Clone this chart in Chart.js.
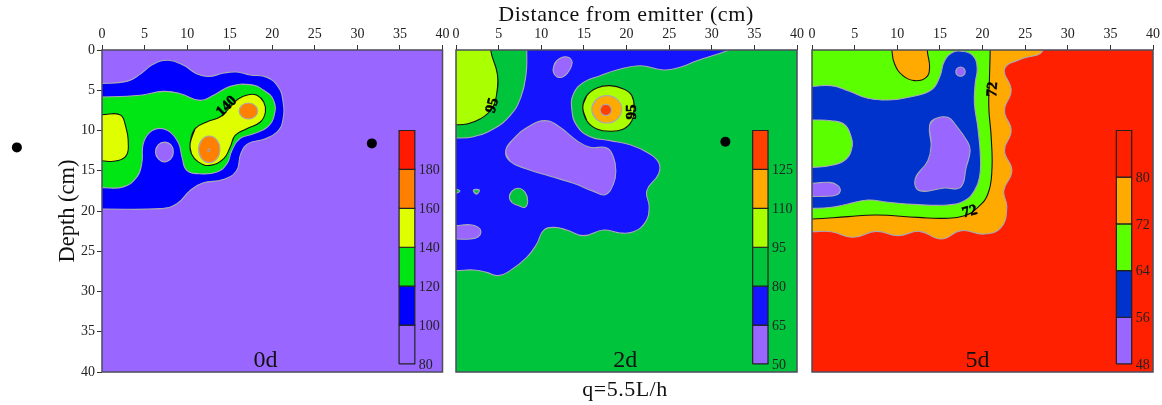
<!DOCTYPE html>
<html>
<head>
<meta charset="utf-8">
<title>Contours</title>
<script src="https://cdn.jsdelivr.net/npm/chart.js@4"></script>
<style>
  html, body { margin: 0; padding: 0; background: #fff; }
  body { position: relative; width: 1162px; height: 405px; overflow: hidden; }
  canvas { position: absolute; top: 0; }
  .cap { position: absolute; font-family: "Liberation Serif", serif; color: #111; white-space: nowrap; transform: translateX(-50%); }
</style>
</head>
<body>
<canvas id="c0" width="456" height="405" style="left:0"></canvas>
<canvas id="c2" width="361" height="405" style="left:445px"></canvas>
<canvas id="c5" width="360" height="405" style="left:802px"></canvas>
<div class="cap" style="left:626px;top:1px;font-size:22px;letter-spacing:.6px">Distance from emitter (cm)</div>
<div class="cap" style="left:625px;top:376px;font-size:22px;letter-spacing:.5px">q=5.5L/h</div>
<script>
const axisTicks = [0, 5, 10, 15, 20, 25, 30, 35, 40];

// 0d contours, x = distance, y = depth (cm)
const d0Blue = [[-3,4.14],[0,4.14],[2.9,3.9],[4.5,3],[6,1.78],[7.8,1.28],[9.6,1.9],[11.1,2.94],[12.5,3.3],[14.3,2.86],[15.8,2.73],[17.4,3.1],[19.4,3.4],[20.7,4.6],[21.25,6.25],[21.25,8.7],[20.55,10.2],[19,11.1],[17.2,11.6],[16.3,12.9],[15.8,15],[14.2,16.1],[11.9,16.5],[10.4,17.4],[8.8,19.1],[6.8,19.7],[0,19.75],[-3,19.75]];
const d0Green = [[-3,5.84],[0,5.84],[4.5,5.63],[7.2,5.14],[9.2,5.43],[11.5,6.26],[13.1,5.63],[15.06,4.52],[17.4,4.3],[19,5],[20.16,6.26],[20.23,8.12],[19.4,9.6],[17.8,10.4],[16.2,11],[15.25,12.5],[14.7,14.1],[13.5,15.15],[11.5,15.37],[9.96,14.95],[9.4,13.3],[9,11.6],[8,10.2],[6.8,9.73],[5.65,10.2],[4.85,11.6],[4.67,14.1],[4.08,15.8],[2.5,17],[0,17.1],[-3,17.1]];
const d0Hole = [[6.28,12.67],[6.6,11.8],[7.33,11.45],[8.1,11.8],[8.38,12.67],[8.1,13.5],[7.33,13.9],[6.6,13.5]];
const d0YellowLeft = [[-3,8.03],[0,8.03],[2.1,8.03],[2.7,9.15],[3.1,12.05],[2.7,13.3],[1.3,13.83],[0,13.75],[-3,13.75]];
const d0Yellow = [[10.35,11.64],[10.94,9.77],[12.3,8.94],[13.9,8.3],[15.06,7.08],[16.04,6.05],[17.2,5.55],[18.2,5.63],[19,6.46],[19.2,7.7],[18.6,8.94],[17,9.77],[15.65,10.6],[15.06,12.05],[14.3,13.5],[12.7,14.33],[11.3,13.9],[10.5,12.9]];
const d0OrangeTop = [[16.1,7.58],[16.4,6.9],[17.2,6.58],[18,6.9],[18.3,7.58],[18,8.25],[17.2,8.58],[16.4,8.25]];
const d0OrangeLow = [[11.35,12.34],[11.7,11.2],[12.6,10.68],[13.5,11.2],[13.85,12.34],[13.5,13.5],[12.6,14],[11.7,13.5]];
const d0Red = [[12.42,12.46],[12.55,12.32],[12.68,12.46],[12.55,12.6]];

// 2d contours
const d2Blue = [[8.3,-3],[8.3,0],[8.22,2.98],[7.6,5.88],[6.34,8.16],[4.38,9.81],[2.04,10.77],[0,10.93],[-3,10.93],[-3,27.41],[0,27.41],[2.04,27.33],[3.6,27.62],[4.97,28.03],[6.34,27.41],[8.3,25.76],[9.47,24.1],[10.25,22.44],[11.43,22.03],[13,22.36],[14.95,23.06],[17.3,22.36],[19.26,22.73],[20.82,22.57],[22.2,21.41],[22.66,19.54],[22.39,17.47],[23.76,15.4],[23.76,13.95],[22.39,12.71],[20.43,11.76],[18.08,11.26],[15.73,10.77],[14.17,9.4],[13.58,7.33],[13.78,5.47],[14.95,4.02],[16.91,3.19],[18.86,2.48],[21.6,1.95],[24.34,2.48],[26.3,2.15],[28.26,1.33],[31.8,0.08],[34,-1],[34,-3]];
const d2YellowLeft = [[4.07,-3],[4.07,0],[4.85,2.98],[4.77,5.47],[4.19,7.33],[2.82,8.57],[1.25,9.19],[0,9.28],[-3,9.28],[-3,-3]];
const d2BlobTop = [[11.43,2.15],[11.82,1.33],[12.8,0.83],[13.58,1.33],[13.38,2.36],[12.6,3.31],[11.82,3.31],[11.43,2.77]];
const d2BlobMid = [[5.83,12.5],[6.73,11.06],[8.69,9.4],[10.65,8.78],[12.2,9.6],[14.17,11.26],[15.73,12.09],[17.69,12.17],[18.47,13.33],[18.75,14.99],[18.47,16.65],[17.5,17.97],[16.13,17.56],[13.78,16.56],[11.04,15.69],[8.3,14.78],[6.34,13.83]];
const d2BlobLow = [[-3,21.82],[0,21.82],[1.65,21.7],[2.62,22.03],[2.93,22.57],[2.62,23.19],[1.65,23.48],[0,23.48],[-3,23.48]];
const d2GreenBlob = [[6.26,18.3],[6.54,17.56],[7.32,17.18],[8.1,17.68],[8.41,18.72],[8.1,19.54],[7.32,19.33],[6.54,18.92]];
const d2SpeckA = [[-0.5,17.3],[0,17.3],[0.45,17.5],[0,17.8],[-0.5,17.8]];
const d2SpeckB = [[2.04,17.4],[2.74,17.4],[2.39,17.9]];
const d2Yellow = [[14.87,7.12],[15.34,5.67],[16.52,4.72],[18.08,4.43],[19.65,4.84],[20.63,5.67],[20.9,7.33],[20.63,8.78],[19.65,9.81],[18.08,10.1],[16.52,9.81],[15.34,8.78]];
const d2Orange = [[15.93,7.37],[16.45,6.17],[17.69,5.67],[18.93,6.17],[19.45,7.37],[18.93,8.57],[17.69,9.07],[16.45,8.57]];
const d2Red = [[16.9,7.45],[17.1,6.95],[17.57,6.75],[18.04,6.95],[18.24,7.45],[18.04,7.95],[17.57,8.15],[17.1,7.95]];

// 5d contours
const d5Orange = [[27.07,-3],[27.07,0.08],[24.53,1.12],[22.58,2.36],[23.36,5],[22.58,7.54],[23.36,10],[22.58,12.5],[23.44,14.99],[22.5,17.47],[22.85,19.54],[22.19,22.03],[20.23,22.86],[17.5,22.44],[15.16,23.48],[12.62,22.53],[10.08,23.06],[7.54,22.53],[4.8,23.27],[2.27,22.57],[0,22.57],[-3,22.57],[-3,-3]];
const d5Green = [[20.9,-3],[20.9,0],[20.82,3.4],[20.74,7.12],[21.02,10.85],[21.1,15],[20.63,17.89],[19.45,19.54],[17.89,20.58],[15.55,20.91],[12.42,20.79],[7.54,20.5],[4.22,20.7],[0,21],[-3,21],[-3,-3]];
const d5OrangeTop = [[9.38,-3],[9.38,0],[9.69,1.74],[10.66,3.19],[12.03,3.81],[13.4,3.4],[13.79,2.15],[13.52,0],[13.52,-3]];
const d5Blue = [[-3,4.51],[0,4.51],[2.27,4.43],[4.22,5.05],[6.56,6],[8.91,6.21],[11.64,5.8],[13.98,4.97],[14.96,3.4],[15.55,1.33],[16.52,0.29],[17.7,0.17],[18.87,0.7],[19.37,2.15],[19.14,4.22],[19.06,6.7],[19.45,9.6],[19.76,13.33],[19.65,15.82],[19.06,17.47],[17.89,18.72],[15.94,19.25],[12.42,19.21],[8.91,18.92],[6.56,18.63],[4.22,19.13],[2.27,19.54],[0,19.67],[-3,19.67]];
const d5GreenLeft = [[-3,8.7],[0,8.7],[2.27,8.78],[3.83,9.28],[4.61,10.85],[4.69,12.09],[4.02,13.54],[2.46,14.29],[0,14.58],[-3,14.58]];
const d5BlobMid = [[13.79,9.4],[14.37,8.57],[15.94,8.36],[16.91,9.4],[18.28,11.47],[18.55,12.5],[18.09,14.58],[17.42,17.06],[15.55,17.14],[12.62,17.47],[12.11,16.02],[13.59,13.75],[13.98,11.68]];
const d5BlobTop = [[16.87,2.69],[17.03,2.28],[17.42,2.11],[17.81,2.28],[17.97,2.69],[17.81,3.1],[17.42,3.27],[17.03,3.1]];
const d5BlobLow = [[-3,16.56],[0,16.56],[2.07,16.44],[3.05,16.85],[3.32,17.47],[2.85,18.01],[1.48,18.18],[0,18.18],[-3,18.18]];

// emitter dots
const d0Dots = [[31.7,11.6]];
const d0DotsOutside = [[-10,12.1]];   // left of the plot, the line element won't draw these
const d2Dots = [[31.6,11.4]];

// colorbar levels, low to high
const d0Levels = [80, 100, 120, 140, 160, 180, 200];
const d2Levels = [50, 65, 80, 95, 110, 125, 140];
const d5Levels = [48, 56, 64, 72, 80, 88];

const PURPLE = '#9966ff';
const d0Colors = [PURPLE, '#0000ff', '#00e614', '#dfff00', '#ff8000', '#ff1a00'];
const d2Colors = [PURPLE, '#1414ff', '#00c43c', '#aaff00', '#ffaa00', '#ff4000'];
const d5Colors = [PURPLE, '#0033cc', '#5cff00', '#ffaa00', '#ff2000'];

const GREY = '#a9a9b5';
const BLACK = '#111111';
const SERIF = '"Liberation Serif", serif';
const BAR_TOP = 10, BAR_BOTTOM = 39;   // depth the colorbar spans

const notesPlugin = {
  id: 'notes',
  beforeDatasetsDraw(chart, args, o) {
    const a = chart.chartArea;
    chart.ctx.fillStyle = o.base;
    chart.ctx.fillRect(a.left, a.top, a.width, a.height);
  },
  afterDatasetsDraw(chart, args, o) {
    const ctx = chart.ctx, a = chart.chartArea;
    const x = chart.scales.x, y = chart.scales.y, cb = chart.scales.cb;
    ctx.save();
    ctx.strokeStyle = '#4c4c5c';
    ctx.lineWidth = 1.5;
    ctx.strokeRect(a.left, a.top, a.width, a.height);
    // colorbar numbers
    ctx.fillStyle = '#222';
    ctx.font = '14px ' + SERIF;
    ctx.textAlign = 'left';
    ctx.textBaseline = 'middle';
    o.levels.slice(0, -1).forEach(v => {
      ctx.fillText(String(v), x.getPixelForValue(o.barX[1]) + 4, cb.getPixelForValue(v) + 1);
    });
    // contour labels, stroked a little to get the heavy look
    ctx.fillStyle = '#000';
    ctx.strokeStyle = '#000';
    ctx.lineWidth = 0.5;
    ctx.font = 'bold 15px ' + SERIF;
    ctx.textAlign = 'center';
    o.contourLabels.forEach(l => {
      ctx.save();
      ctx.translate(x.getPixelForValue(l.x), y.getPixelForValue(l.y));
      ctx.rotate(l.angle * Math.PI / 180);
      ctx.fillText(l.text, 0, 0);
      ctx.strokeText(l.text, 0, 0);
      ctx.restore();
    });
    // panel name
    ctx.fillStyle = '#111';
    ctx.font = '24px ' + SERIF;
    ctx.fillText(o.name, x.getPixelForValue(o.nameX), y.getPixelForValue(38.6));
    // dot outside the axes
    ctx.fillStyle = '#000';
    o.outside.forEach(d => {
      ctx.beginPath();
      ctx.arc(x.getPixelForValue(d[0]), y.getPixelForValue(d[1]), 5, 0, Math.PI * 2);
      ctx.fill();
    });
    ctx.restore();
  }
};

function region(pts, color, edge, i) {
  return {
    // wrap around by one point each way so the spline has no kink where it closes
    data: [pts[pts.length - 1], ...pts, pts[0], pts[1]],
    showLine: true,
    fill: 'shape',
    backgroundColor: color,
    borderColor: edge,
    borderWidth: 1.1,
    pointRadius: 0,
    tension: 0.45,
    order: -i
  };
}

function barDatasets(levels, colors, barX, start) {
  return colors.map((c, i) => {
    const lo = levels[i], hi = levels[i + 1];
    return {
      data: [[barX[0], lo], [barX[1], lo], [barX[1], hi], [barX[0], hi], [barX[0], lo]],
      yAxisID: 'cb',
      showLine: true,
      fill: 'shape',
      backgroundColor: c,
      borderColor: '#222',
      borderWidth: 1.2,
      pointRadius: 0,
      tension: 0,
      order: -(start + i)
    };
  });
}

function drawPanel(id, cfg) {
  const datasets = cfg.regions.map((r, i) => region(r[0], r[1], r[2], i));
  const n = datasets.length;
  datasets.push(...barDatasets(cfg.levels, cfg.colors, cfg.barX, n));
  if (cfg.dots.length) {
    datasets.push({
      data: cfg.dots,
      showLine: false,
      pointRadius: 5,
      pointBackgroundColor: '#000',
      pointBorderWidth: 0,
      order: -100
    });
  }
  const levels = cfg.levels;
  const k = (levels[levels.length - 1] - levels[0]) / (BAR_BOTTOM - BAR_TOP);
  new Chart(document.getElementById(id), {
    type: 'scatter',
    data: { datasets },
    plugins: [notesPlugin],
    options: {
      responsive: false,
      animation: false,
      events: [],
      layout: { padding: cfg.padding },
      plugins: {
        legend: { display: false },
        tooltip: { enabled: false },
        notes: {
          base: cfg.colors[cfg.baseIndex],
          levels,
          barX: cfg.barX,
          contourLabels: cfg.contourLabels,
          name: cfg.name,
          nameX: cfg.nameX,
          outside: cfg.outside || []
        }
      },
      scales: {
        x: {
          type: 'linear',
          position: 'top',
          min: 0,
          max: 40,
          afterBuildTicks(s) { s.ticks = axisTicks.map(v => ({ value: v })); },
          afterFit(s) { s.height = 50; },
          border: { display: false },
          grid: { drawOnChartArea: false, tickLength: 5, color: '#333' },
          ticks: { color: '#222', font: { family: SERIF, size: 14 }, padding: 2, maxRotation: 0, autoSkip: false }
        },
        y: {
          type: 'linear',
          reverse: true,
          min: 0,
          max: 40,
          display: cfg.showY,
          afterBuildTicks(s) { s.ticks = axisTicks.map(v => ({ value: v })); },
          afterFit(s) { s.width = cfg.showY ? 48 : 0; },
          border: { display: false },
          grid: { drawOnChartArea: false, tickLength: 5, color: '#333' },
          ticks: { color: '#222', font: { family: SERIF, size: 14 }, padding: 2, autoSkip: false },
          title: { display: cfg.showY, text: 'Depth (cm)', color: '#111', font: { family: SERIF, size: 22.5 }, padding: { top: 1, bottom: 0 } }
        },
        cb: {
          type: 'linear',
          axis: 'y',
          display: false,
          min: levels[0] - (40 - BAR_BOTTOM) * k,
          max: levels[levels.length - 1] + BAR_TOP * k
        }
      }
    }
  });
}

drawPanel('c0', {
  name: '0d', nameX: 19.2, baseIndex: 0, showY: true,
  padding: { left: 54, right: 13.5, top: 0, bottom: 33 },
  levels: d0Levels, colors: d0Colors, barX: [34.9, 36.75], dots: d0Dots, outside: d0DotsOutside,
  regions: [
    [d0Blue, d0Colors[1], GREY], [d0Green, d0Colors[2], GREY], [d0Hole, PURPLE, GREY],
    [d0YellowLeft, d0Colors[3], BLACK], [d0Yellow, d0Colors[3], BLACK],
    [d0OrangeTop, d0Colors[4], GREY], [d0OrangeLow, d0Colors[4], GREY], [d0Red, d0Colors[5], GREY]
  ],
  contourLabels: [{ text: '140', x: 14.65, y: 7, angle: -45 }]
});

drawPanel('c2', {
  name: '2d', nameX: 19.86, baseIndex: 2, showY: false,
  padding: { left: 11, right: 8.5, top: 0, bottom: 33 },
  levels: d2Levels, colors: d2Colors, barX: [34.8, 36.6], dots: d2Dots,
  regions: [
    [d2Blue, d2Colors[1], GREY], [d2YellowLeft, d2Colors[3], BLACK], [d2BlobTop, PURPLE, GREY],
    [d2BlobMid, PURPLE, GREY], [d2BlobLow, PURPLE, GREY], [d2GreenBlob, d2Colors[2], GREY],
    [d2SpeckA, d2Colors[2], GREY], [d2SpeckB, d2Colors[2], GREY],
    [d2Yellow, d2Colors[3], BLACK], [d2Orange, d2Colors[4], GREY], [d2Red, d2Colors[5], GREY]
  ],
  contourLabels: [
    { text: '95', x: 4.27, y: 6.9, angle: -75 },
    { text: '95', x: 20.7, y: 7.7, angle: -90 }
  ]
});

drawPanel('c5', {
  name: '5d', nameX: 19.4, baseIndex: 4, showY: false,
  padding: { left: 10, right: 9, top: 0, bottom: 33 },
  levels: d5Levels, colors: d5Colors, barX: [35.7, 37.5], dots: [],
  regions: [
    [d5Orange, d5Colors[3], GREY], [d5Green, d5Colors[2], BLACK], [d5OrangeTop, d5Colors[3], BLACK],
    [d5Blue, d5Colors[1], GREY], [d5GreenLeft, d5Colors[2], GREY], [d5BlobMid, PURPLE, GREY],
    [d5BlobTop, PURPLE, GREY], [d5BlobLow, PURPLE, GREY]
  ],
  contourLabels: [
    { text: '72', x: 21.2, y: 4.9, angle: -85 },
    { text: '72', x: 18.5, y: 20.1, angle: -15 }
  ]
});
</script>
</body>
</html>
